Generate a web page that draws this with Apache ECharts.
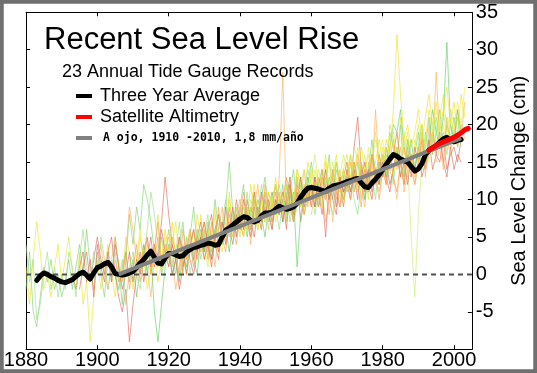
<!DOCTYPE html>
<html><head><meta charset="utf-8">
<script src="https://cdn.jsdelivr.net/npm/echarts@6/dist/echarts.min.js"></script>
<style>html,body{margin:0;padding:0;background:#fff}#chart{width:537px;height:373px}</style>
</head><body><div id="chart"></div>
<script>
// Axis ticks
const xTicks = [1880, 1900, 1920, 1940, 1960, 1980, 2000];
const yTicks = [-5, 0, 5, 10, 15, 20, 25, 30, 35];

// Three year average (annual, from 1883)
const avgStart = 1883;
const avgValues = [-0.8,-0.2,0.2,0.0,-0.3,-0.5,-0.8,-1.0,-1.1,-0.9,-0.7,-0.3,0.1,0.3,-0.1,-0.6,0.2,0.9,1.1,1.4,1.6,1.0,0.1,0.0,-0.1,0.0,0.2,0.4,0.9,1.5,2.0,2.6,3.1,2.3,1.5,1.4,2.2,2.8,2.8,2.6,2.4,2.5,3.0,3.3,3.6,3.7,3.9,4.0,4.2,4.1,3.9,4.0,5.0,5.9,6.2,6.6,7.0,7.4,7.7,7.6,7.2,7.0,7.2,7.8,8.2,8.2,8.3,8.7,9.1,8.9,8.7,8.8,9.0,9.5,10.3,11.0,11.5,11.6,11.5,11.4,11.2,11.1,11.5,11.8,11.9,12.0,12.2,12.4,12.5,12.7,12.8,12.2,11.7,11.6,12.2,12.7,13.3,14.0,14.7,15.4,16.0,15.8,15.4,15.2,15.0,14.4,13.8,14.1,14.8,16.0,16.6,16.9,17.2,17.7,18.1,18.3,17.9,17.7,17.9,18.0];

// Satellite altimetry
const satYears = [1993, 1994, 1996, 1998, 2000, 2001, 2002, 2003, 2004];
const satValues = [16.6, 16.9, 17.5, 17.9, 18.3, 18.6, 18.9, 19.3, 19.5];

// Eye-fit trend line
const trendYears = [1906, 2002];
const trendValues = [0, 18.2];

// Zero reference line
const zeroYears = [1880, 2005];
const zeroValues = [0, 0];

// Tide gauge records (annual)
const gaugeStarts = [1880, 1880, 1893, 1900, 1905, 1910, 1925, 1920, 1950, 1960, 1895, 1880, 1940, 1905];
const gaugeColors = ['#7ed36a','#e6e62a','#e0685a','#ffae5a','#5fcf5f','#f0e020','#c8ee6a','#d96a5e','#8de07a','#ffb860','#cf6f66','#9ddc8a','#eeee44','#f8a050'];
const gaugeA = [-2,3,-5,-7,-3,1,-1,2,-2,0, -3,-1,2,-2,1,4,0,6,1,-2, 3,0,-3,2,-1,5,1,-4,2,8, 4,9,6,12,10,7,3,1,5,2, 6,3,0,4,7,2,5,9,4,6, 3,7,5,10,6,4,9,15,8,5, 9,12,6,8,11,7,10,13,9,6, 10,8,12,7,11,14,9,13,10,12, 15,11,9,13,12,16,10,14,12,9, 13,16,11,15,12,10,14,18,13,12, 16,14,19,17,15,20,13,18,15,16, 19,14,17,21,16,19,22,17,20,18, 21,17,19];
const gaugeB = [1,-4,2,7,3,-2,0,-3,1,4, -1,2,5,0,-2,3,-4,-1,-9,-3, 2,-2,1,4,0,-3,2,-1,5,3, -2,2,6,1,4,0,3,8,2,5, 1,4,7,2,0,5,3,6,2,8, 4,1,6,9,3,7,5,11,6,8, 5,9,7,12,8,6,10,7,11,9, 13,8,10,7,12,9,14,11,8,13, 10,14,12,9,15,11,13,16,12,14, 11,15,13,17,12,14,10,16,19,14, 17,13,20,18,15,21,16,19,14,17, 20,16,18,22,19,17,21,24,19,22, 20];
const gaugeC = [0,-2,1,3,-1,2,-3, 4,1,-1,3,5,0,-3,-5,-2,-9, -4,0,3,-1,2,5,1,3,7,13, 8,4,2,5,1,3,6,2,5,7, 3,6,8,4,2,7,5,9,6,10, 7,5,9,6,11,8,6,10,7,9, 12,8,10,6,11,9,13,7,10,12, 9,13,11,8,12,10,14,11,9,13, 15,12,17,21,14,11,13,16,12,15, 13,17,14,16,19,15,12,16,13,17, 15,18,14,17,19,16,15,18,14,16, 17,15,18];
const gaugeD = [1,4,0,-2,2,5,1,-1,3,9, 6,2,0,4,1,-3,2,5,0,3, 5,2,-2,1,4,0,3,6,2,4, 7,3,5,1,6,9,4,7,5,8, 10,6,8,4,9,12,7,9,6,11, 8,13,27,9,11,7,12,10,14,9, 12,9,13,11,7,10,14,12,9,11, 14,11,13,16,12,9,15,13,22,14, 16,12,15,18,14,17,11,14,16,13, 15,19,13,20,17,27,18,15,21,17, 19,22,18,23];
const gaugeE = [0,-2,1,3,-1, 2,-3,1,4,0,3,-5,-9,-4,1, 4,0,2,-1,3,1,4,2,0,5, 3,6,2,5,8,4,6,3,7,9, 6,8,5,9,7,10,8,5,9,11, 8,10,7,12,9,11,1,8,10,13, 11,9,12,14,10,13,11,15,12,10, 13,11,15,12,14,10,13,16,14,12, 15,13,17,20,19,22,17,15,18,14, 17,20,15,18,22,19,17,21,31,20, 18,22,19];
const gaugeF = [3,0,5,2,-2,1,4,-1,2,6, 3,7,2,5,0,4,6,3,8,5, 2,6,4,8,5,3,7,10,6,9, 7,10,6,9,12,8,10,7,11,9, 12,10,8,13,11,9,14,12,10,15, 13,10,14,12,16,11,13,15,12,14, 16,13,15,12,17,14,16,13,15,18, 15,18,16,22,32,24,18,20,17,19, 22,18,21,24,20,23,19,22,25,20, 23,19,24,21];
const gaugeG = [2,5,3,6,4, 7,5,3,6,8,4,7,9,5,8, 6,9,7,10,8,6,11,9,7,10, 12,9,11,8,13,10,9,12,14,11, 13,16,12,10,14,12,15,11,13,16, 14,12,17,15,13,16,12,15,18,16, 14,17,15,19,16,13,18,15,5,-3, 8,15,18,16,20,17,19,22,18,20, 19];
const gaugeH = [3,0,2,-2,1,4,2,0,3,5, 2,4,1,5,3,7,4,6,9,5, 8,6,10,7,5,9,7,11,8,6, 10,8,11,9,12,7,10,13,9,11, 10,13,9,11,5,12,10,8,13,11, 12,10,14,11,13,15,12,10,14,12, 15,13,11,14,17,13,15,12,16,14, 17,13,15,18,14,16,19,15,13,17, 14,16,15];
const gaugeI = [9,6,10,8,11,7,9,12,8,10, 12,8,11,9,13,10,8,12,11,14, 11,13,10,8,12,14,11,13,10,15, 13,16,14,12,17,15,13,18,16,14, 17,15,19,16,18,21,17,19,16,20, 18,21,17];
const gaugeJ = [8,11,9,13,10,12,7,11,14,10, 12,15,11,13,10,14,12,16,13,11, 14,12,16,13,10,15,17,13,16,12, 15,18,14,16,19,15,17,14,18,16, 19,17,20,18];
const gaugeK = [-2,1,3,-1,2, 5,2,0,3,-1,4,1,-2,0,3, -1,2,0,3,5,1,4,2,6,3, 1,4,2,5,3,0,4,6,3,5, 7,4,2,6,8,5,9,6,4,8, 6,10,8,5,9,7,11,8,10,7, 9,11,7,10,13,8,11,9,12,10, 12,9,13,11,14,10,12,9,13,11, 14,11,13,10,15,12,14,11,13,16, 13,15,12,14,16,13];
const gaugeL = [4,-1,2,-6,-4,0,3,-2,1,-3, 0,-2,3,1,-3,2,6,1,-1,3, 0,5,2,-2,1,3,-1,2,-4,1, 3,0,-2,2,6,11,8,4,0,2, 4,1,3,7,2,5,0,3,6,2, 5,8,3,6,4,7,10,5,8,6, 9,7,11,6,10,8,12,9,7,10, 8,12,9,11,7,10,13,9,11,14, 12];
const gaugeM = [8,5,9,7,10,6,9,11,8,10, 7,11,9,12,8,10,13,9,12,10, 14,11,13,9,12,15,11,13,10,14, 12,16,13,11,15,13,17,14,12,16, 18,14,16,13,17,15,19,16,14,18, 16,20,17,15,19,22,18,20,17,21, 19,23,20,25];
const gaugeN = [2,-1,0,3,-2, 1,4,-1,2,5,0,3,7,1,4, 2,5,3,0,6,2,4,1,5,3, 6,2,7,4,9,5,3,8,6,4, 8,11,7,5,10,8,6,12,9,7, 11,8,10,13,9,7,12,10,8,11, 9,12,10,14,11,8,13,10,12,9, 13,10,15,12,9,14,11,16,13,10, 14,12,16,13,11,15,12,17,14,12, 15];
const gauges = [gaugeA,gaugeB,gaugeC,gaugeD,gaugeE,gaugeF,gaugeG,gaugeH,gaugeI,gaugeJ,gaugeK,gaugeL,gaugeM,gaugeN];

const AVG = 'Three Year Average', SAT = 'Satellite Altimetry', TREND = 'A ojo, 1910 -2010, 1,8 mm/año';
const FONT = 'Liberation Sans, Arial, sans-serif';

const series = gauges.map((vals, k) => ({
  type: 'line', name: 'g' + k, silent: true, symbol: 'none',
  data: vals.map((v, i) => [gaugeStarts[k] + i, v]),
  lineStyle: { width: 0.9, color: gaugeColors[k], opacity: 0.7 }, z: 2
}));
series.push({ type: 'line', name: 'zero', symbol: 'none', silent: true, z: 3,
  data: zeroYears.map((y, i) => [y, zeroValues[i]]),
  lineStyle: { type: [5, 4], color: '#505050', width: 2 } });
series.push({ type: 'line', name: AVG, symbol: 'none', z: 4,
  data: avgValues.map((v, i) => [avgStart + i, v]),
  lineStyle: { width: 5, color: '#000', cap: 'round', join: 'round' }, itemStyle: { color: '#000' } });
series.push({ type: 'line', name: TREND, symbol: 'none', z: 5,
  data: trendYears.map((y, i) => [y, trendValues[i]]),
  lineStyle: { width: 4, color: '#808080' }, itemStyle: { color: '#808080' } });
series.push({ type: 'line', name: SAT, symbol: 'none', z: 6,
  data: satYears.map((y, i) => [y, satValues[i]]),
  lineStyle: { width: 5, color: '#ff0000', cap: 'round' }, itemStyle: { color: '#ff0000' } });

const axisLine = { show: true, onZero: false, lineStyle: { color: '#000', width: 1 } };
const axisTick = { show: true, inside: true, length: 4, lineStyle: { color: '#000' } };

const chart = echarts.init(document.getElementById('chart'), null, { renderer: 'canvas' });
chart.setOption({
  animation: false,
  backgroundColor: '#fff',
  title: [
    { text: 'Recent Sea Level Rise', left: 44, top: 25, padding: 0,
      textStyle: { fontFamily: FONT, fontSize: 31, fontWeight: 'normal', color: '#000' } },
    { text: '23 Annual Tide Gauge Records', left: 62, top: 63.5, padding: 0,
      textStyle: { fontFamily: FONT, fontSize: 18, fontWeight: 'normal', color: '#000' } }
  ],
  legend: {
    left: 76, top: 86, orient: 'vertical', padding: 0, itemGap: 1,
    itemWidth: 16, itemHeight: 4, icon: 'rect',
    textStyle: { fontFamily: FONT, fontSize: 18, color: '#000', lineHeight: 20, padding: [0, 0, 0, 3] },
    data: [
      { name: AVG },
      { name: SAT },
      { name: TREND, textStyle: { fontFamily: 'DejaVu Sans Mono, monospace', fontWeight: 'bold', fontSize: 11.5, lineHeight: 20, padding: [0, 0, 0, 6] } }
    ],
    selectedMode: false
  },
  grid: { left: 26, right: 53.5, top: 12.3, bottom: 23.7 },
  xAxis: [
    { type: 'value', min: 1880, max: 2005, interval: 20, position: 'bottom',
      axisLine: axisLine, axisTick: axisTick,
      axisLabel: { fontFamily: FONT, fontSize: 20, color: '#000', margin: 1,
        formatter: v => xTicks.includes(v) ? String(v) : '' },
      splitLine: { show: false } },
    { type: 'value', min: 1880, max: 2005, interval: 20, position: 'top',
      axisLine: axisLine, axisTick: axisTick,
      axisLabel: { show: false }, splitLine: { show: false } }
  ],
  yAxis: [
    { type: 'value', min: -10, max: 35, interval: 5, position: 'right',
      name: 'Sea Level Change (cm)', nameLocation: 'middle', nameRotate: 90, nameGap: 24,
      nameTextStyle: { fontFamily: FONT, fontSize: 20, color: '#000' },
      axisLine: axisLine, axisTick: axisTick,
      axisLabel: { fontFamily: FONT, fontSize: 20, color: '#000', margin: 4,
        formatter: v => yTicks.includes(v) ? String(v) : '' },
      splitLine: { show: false } },
    { type: 'value', min: -10, max: 35, interval: 5, position: 'left',
      axisLine: axisLine, axisTick: axisTick,
      axisLabel: { show: false }, splitLine: { show: false } }
  ],
  graphic: [
    { type: 'rect', z: 100, silent: true, shape: { x: 0, y: 0, width: 537, height: 373 },
      style: { fill: 'none', stroke: '#707070', lineWidth: 7.5 } }
  ],
  series: series
});
</script></body></html>
